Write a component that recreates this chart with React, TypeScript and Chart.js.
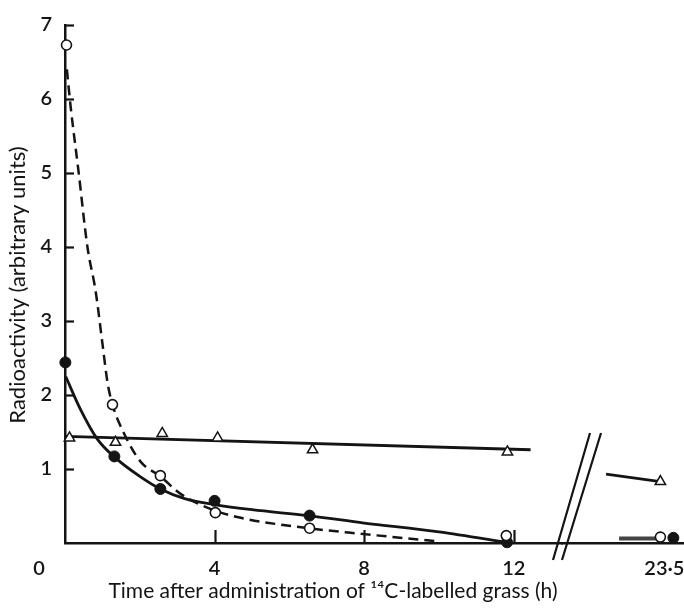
import React, { useEffect, useRef } from 'react';
import { Chart, registerables } from 'chart.js';

Chart.register(...registerables);

// ---- data ----
const openTimes = [0.04, 1.27, 2.55, 4.02, 6.54, 11.8];
const openValues = [6.73, 1.87, 0.91, 0.41, 0.2, 0.1];
const filledTimes = [0.01, 1.32, 2.55, 4.0, 6.54, 11.82];
const filledValues = [2.44, 1.17, 0.73, 0.57, 0.37, 0.01];
const triTimes = [0.12, 1.35, 2.6, 4.08, 6.62, 11.83];
const triValues = [1.42, 1.36, 1.48, 1.42, 1.26, 1.23];

const lateOpenTimes = [23.5];
const lateOpenValues = [0.08];
const lateFilledTimes = [23.83];
const lateFilledValues = [0.07];
const lateTriTimes = [23.5];
const lateTriValues = [0.83];

// fitted curves as drawn
const dashedCurveTimes = [0.05, 0.15, 0.36, 0.6, 0.82, 1.0, 1.14, 1.27, 1.56, 2.02, 2.55, 3.1, 4.0, 4.7, 6.5, 8.0, 10.0];
const dashedCurveValues = [6.4, 5.9, 5.03, 4.0, 3.4, 2.7, 2.16, 1.87, 1.5, 1.1, 0.9, 0.66, 0.44, 0.34, 0.2, 0.12, 0.02];
const solidCurveTimes = [0.02, 0.4, 0.87, 1.35, 2.0, 2.55, 3.2, 4.0, 5.0, 6.5, 8.0, 10.0, 11.9];
const solidCurveValues = [2.25, 1.82, 1.4, 1.15, 0.9, 0.73, 0.6, 0.52, 0.45, 0.37, 0.27, 0.15, 0.0];
const triLineTimes = [0.02, 12.45];
const triLineValues = [1.44, 1.26];
const lateTriLineTimes = [22.12, 23.5];
const lateTriLineValues = [0.93, 0.83];
const lateBaseTimes = [22.45, 23.5];
const lateBaseValues = [0.06, 0.06];

const xTickValues = [0, 4, 8, 12];
const xTickLabels = ['0', '4', '8', '12'];
const lateTickValues = [23.5];
const lateTickLabels = ['23·5'];
const yTickValues = [0, 1, 2, 3, 4, 5, 6, 7];

const xTitle = 'Time after administration of ¹⁴C-labelled grass (h)';
const yTitle = 'Radioactivity (arbitrary units)';

const INK = '#141414';
const FONT = 'Lato, "Open Sans", sans-serif';

const pts = (xs: number[], ys: number[]) => xs.map((x, i) => ({ x, y: ys[i] }));

const decorPlugin = {
  id: 'decor',
  afterDraw(chart: any) {
    const ctx = chart.ctx as CanvasRenderingContext2D;
    const ys = chart.scales.y;
    const xs = chart.scales.x;
    const x2 = chart.scales.x2;
    const axisX = chart.chartArea.left;
    const axisY = chart.chartArea.bottom;
    ctx.save();
    ctx.strokeStyle = INK;
    ctx.fillStyle = INK;
    ctx.lineWidth = 2.2;
    ctx.lineCap = 'butt';
    // inward y ticks
    yTickValues.forEach((v) => {
      if (v === 0) return;
      const py = Math.round(ys.getPixelForValue(v)) + 0.5;
      ctx.beginPath();
      ctx.moveTo(axisX, py);
      ctx.lineTo(axisX + 9, py);
      ctx.stroke();
    });
    // inward x ticks
    xTickValues.forEach((v) => {
      if (v === 0) return;
      const px = Math.round(xs.getPixelForValue(v)) + 0.5;
      ctx.beginPath();
      ctx.moveTo(px, axisY);
      ctx.lineTo(px, axisY - 13);
      ctx.stroke();
    });
    // x tick labels
    ctx.font = '600 20px ' + FONT;
    ctx.textAlign = 'center';
    ctx.textBaseline = 'middle';
    xTickValues.forEach((v, i) => {
      const px = v === 0 ? axisX - 26 : xs.getPixelForValue(v);
      ctx.fillText(xTickLabels[i], px, axisY + 26);
    });
    lateTickValues.forEach((v, i) => {
      ctx.fillText(lateTickLabels[i], x2.getPixelForValue(v) + 4, axisY + 26);
    });
    // axis break marks
    const b = x2.left;
    ctx.lineWidth = 2.2;
    ctx.beginPath();
    ctx.moveTo(b - 9, axisY + 17);
    ctx.lineTo(b + 28, axisY - 110);
    ctx.moveTo(b, axisY + 17);
    ctx.lineTo(b + 39, axisY - 110);
    ctx.stroke();
    // titles
    ctx.font = '21px ' + FONT;
    ctx.fillText(xTitle, 333, axisY + 48);
    ctx.translate(18, 285);
    ctx.rotate(-Math.PI / 2);
    ctx.font = '22px ' + FONT;
    ctx.fillText(yTitle, 0, 0);
    ctx.restore();
  },
};

export default function App() {
  const ref = useRef<HTMLCanvasElement | null>(null);
  useEffect(() => {
    document.body.style.margin = '0';
    const canvas = ref.current;
    if (!canvas) return;
    const openPt = {
      pointStyle: 'circle', pointRadius: 5, pointBackgroundColor: '#fff',
      pointBorderColor: INK, pointBorderWidth: 1.6, showLine: false,
    };
    const filledPt = {
      pointStyle: 'circle', pointRadius: 5.5, pointBackgroundColor: INK,
      pointBorderColor: INK, pointBorderWidth: 1, showLine: false,
    };
    const triPt = {
      pointStyle: 'triangle', pointRadius: 6, pointBackgroundColor: '#fff',
      pointBorderColor: INK, pointBorderWidth: 1.5, showLine: false,
    };
    const curve = {
      pointRadius: 0, borderColor: INK, borderWidth: 2.8, showLine: true,
      cubicInterpolationMode: 'monotone',
    };
    const chart = new Chart(canvas, {
      type: 'scatter',
      data: {
        datasets: [
          { data: pts(openTimes, openValues), xAxisID: 'x', ...openPt, order: 0, clip: false },
          { data: pts(filledTimes, filledValues), xAxisID: 'x', ...filledPt, order: 0, clip: false },
          { data: pts(triTimes, triValues), xAxisID: 'x', ...triPt, order: 0, clip: false },
          { data: pts(lateOpenTimes, lateOpenValues), xAxisID: 'x2', ...openPt, order: 0, clip: false },
          { data: pts(lateFilledTimes, lateFilledValues), xAxisID: 'x2', ...filledPt, order: 0, clip: false },
          { data: pts(lateTriTimes, lateTriValues), xAxisID: 'x2', ...triPt, order: 0, clip: false },
          { data: pts(dashedCurveTimes, dashedCurveValues), xAxisID: 'x', ...curve, borderDash: [10, 6], borderWidth: 2.5, order: 1, clip: false },
          { data: pts(solidCurveTimes, solidCurveValues), xAxisID: 'x', ...curve, order: 1, clip: false },
          { data: pts(triLineTimes, triLineValues), xAxisID: 'x', ...curve, order: 1, clip: false },
          { data: pts(lateTriLineTimes, lateTriLineValues), xAxisID: 'x2', ...curve, order: 1, clip: false },
          { data: pts(lateBaseTimes, lateBaseValues), xAxisID: 'x2', ...curve, borderWidth: 4, borderColor: '#444', order: 1, clip: false },
        ] as any,
      },
      options: {
        animation: false,
        responsive: false,
        layout: { autoPadding: false, padding: { top: 15, right: 0, left: 0, bottom: 0 } },
        plugins: { legend: { display: false }, tooltip: { enabled: false } },
        scales: {
          x: {
            type: 'linear', position: 'bottom', stack: 'xs', stackWeight: 497,
            min: 0, max: 13.29,
            grid: { display: false, drawTicks: false },
            border: { display: true, color: INK, width: 2.5 },
            ticks: { display: false },
            afterFit: (s: any) => { s.height = 66; },
          },
          x2: {
            type: 'linear', position: 'bottom', axis: 'x', stack: 'xs', stackWeight: 122,
            min: 21, max: 24.1,
            grid: { display: false, drawTicks: false },
            border: { display: true, color: INK, width: 2.5 },
            ticks: { display: false },
            afterFit: (s: any) => { s.height = 66; },
          },
          y: {
            type: 'linear', position: 'left', min: 0, max: 7,
            grid: { display: false, drawTicks: false },
            border: { display: true, color: INK, width: 2.5 },
            ticks: {
              stepSize: 1, padding: 13, color: INK,
              font: { family: FONT, size: 20, weight: '600' },
              callback: (v: any) => (v === 0 ? '' : String(v)),
            },
            afterFit: (s: any) => { s.width = 65; },
          },
        },
      } as any,
      plugins: [decorPlugin],
    });
    return () => chart.destroy();
  }, []);
  return (
    <div style={{ width: 684, height: 609, background: '#fff' }}>
      <canvas ref={ref} width={684} height={609} style={{ display: 'block' }} />
    </div>
  );
}
